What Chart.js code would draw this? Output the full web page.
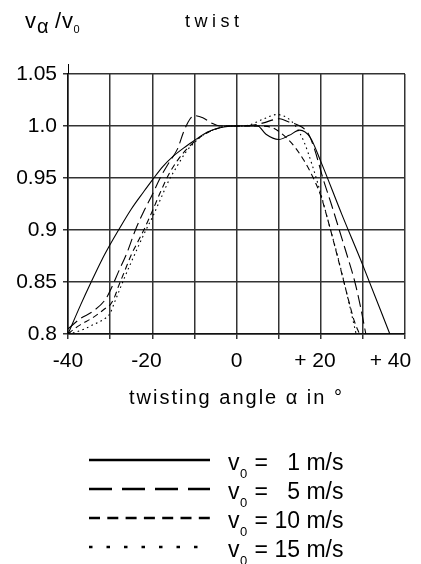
<!DOCTYPE html>
<html lang="en">
<head>
  <meta charset="UTF-8" />
  <title>twist</title>
  <style>
    body {
      margin: 0;
      background: #fff;
    }
    canvas {
      display: block;
    }
  </style>
</head>
<body>
  <canvas id="twistChart" width="421" height="564"></canvas>

  <script src="https://cdn.jsdelivr.net/npm/chart.js"></script>
  <script>
    // values (angle in degrees, v_alpha / v_0)
    const angles1 = [-40, -37, -34.5, -32, -30, -28, -25, -22, -20, -17.5, -15, -12.5, -10, -7, -3, 0, 3, 5, 7, 10, 12.5, 15, 17.5, 20, 25, 30, 36.4];
    const ratio1  = [0.8, 0.828, 0.85, 0.871, 0.886, 0.9, 0.92, 0.937, 0.948, 0.961, 0.971, 0.979, 0.986, 0.994, 0.999, 1.0, 1.0, 1.0, 0.992, 0.987, 0.991, 0.996, 0.989, 0.966, 0.915, 0.866, 0.8];

    const angles5 = [-40, -37, -34, -31, -29.5, -28, -26, -24, -22, -20, -18, -16, -14, -12.5, -11, -10, -8, -6, -4, 0, 4, 6.4, 8.8, 10.3, 12.3, 14, 15.5, 17, 18.5, 20.5, 22.5, 24.4, 26.3, 28.1, 29.5, 30.7];
    const ratio5  = [0.805, 0.815, 0.822, 0.834, 0.846, 0.86, 0.878, 0.9, 0.918, 0.934, 0.951, 0.965, 0.978, 0.995, 1.007, 1.01, 1.008, 1.003, 1.0, 1.0, 1.001, 1.003, 1.006, 1.007, 1.004, 1.002, 0.999, 0.993, 0.978, 0.95, 0.925, 0.9, 0.875, 0.85, 0.825, 0.8];

    const angles10 = [-40, -38.5, -37, -34, -31, -30, -29, -28, -26.5, -25, -23, -22, -20, -18, -16, -14, -12, -10, -8, -5, -2, 0, 5, 8, 10, 12, 14, 16, 18, 20, 22, 24, 26, 28, 29.2];
    const ratio10  = [0.8, 0.805, 0.809, 0.816, 0.825, 0.828, 0.835, 0.846, 0.861, 0.876, 0.892, 0.9, 0.918, 0.937, 0.954, 0.967, 0.977, 0.985, 0.991, 0.997, 1.0, 1.0, 1.0, 0.999, 0.995, 0.988, 0.979, 0.967, 0.952, 0.933, 0.905, 0.874, 0.842, 0.812, 0.8];

    const angles15 = [-40, -38, -36, -34, -32, -30, -29, -28, -26.5, -25, -23, -21.5, -20, -18, -16, -14, -12, -10, -8, -5, -2, 0, 3, 6, 9.6, 12, 14, 16, 18, 20, 22, 24, 26, 28.4];
    const ratio15  = [0.8, 0.802, 0.805, 0.809, 0.813, 0.82, 0.83, 0.84, 0.855, 0.869, 0.887, 0.9, 0.912, 0.93, 0.948, 0.962, 0.975, 0.984, 0.991, 0.997, 1.0, 1.0, 1.001, 1.006, 1.011, 1.008, 1.0, 0.985, 0.962, 0.935, 0.905, 0.875, 0.842, 0.8];

    const speeds = ['1', '5', '10', '15'];
    // tick texts as printed under the axis (trailing blanks nudge them left like the original)
    const xTickText = { '-40': '-40', '-20': '-20  ', '0': '0', '20': '+ 20  ', '40': '+ 40     ' };

    const FONT = "'Liberation Sans', Arial, sans-serif";

    function pairs(xs, ys) {
      return xs.map((x, i) => ({ x: x, y: ys[i] }));
    }

    // line look in the plot and in the key below it
    const plotDash = [[], [12, 5], [6, 4], [1.6, 3.4]];
    const keyDash = [[], [23, 10], [11, 7.3], [3.5, 14]];
    const keyEnd = [210, 210, 210, 199];

    function drawV0(ctx, x, y, size, subSize, drop) {
      ctx.font = size + 'px ' + FONT;
      ctx.fillText('v', x, y);
      const w = ctx.measureText('v').width;
      ctx.font = subSize + 'px ' + FONT;
      ctx.fillText('0', x + w + 0.5, y + drop);
      return x + w + 0.5 + ctx.measureText('0').width;
    }

    const textPlugin = {
      id: 'twistText',
      afterDraw(chart) {
        const ctx = chart.ctx;
        const area = chart.chartArea;
        ctx.save();
        ctx.fillStyle = '#000';
        ctx.strokeStyle = '#000';
        ctx.textBaseline = 'alphabetic';
        ctx.textAlign = 'left';

        // y axis runs a little above the top grid line
        ctx.lineWidth = 1;
        ctx.beginPath();
        ctx.moveTo(Math.round(area.left) + 0.5, area.top - 10);
        ctx.lineTo(Math.round(area.left) + 0.5, area.top);
        ctx.stroke();

        // y label  v_alpha / v_0
        ctx.font = '22px ' + FONT;
        ctx.fillText('v', 25, 28);
        ctx.font = '20px ' + FONT;
        ctx.fillText('\u03b1', 37, 33);
        ctx.font = '22px ' + FONT;
        ctx.fillText('/', 55, 28);
        drawV0(ctx, 62, 28, 22, 11, 5);

        // title
        ctx.letterSpacing = '4.5px';
        ctx.font = '18px ' + FONT;
        ctx.fillText('twist', 185, 27);

        // x title
        ctx.letterSpacing = '2px';
        ctx.font = '20px ' + FONT;
        const xt = 'twisting angle \u03b1 in \u00b0';
        const xw = ctx.measureText(xt).width;
        ctx.fillText(xt, (area.left + area.right) / 2 - xw / 2, 404);
        ctx.letterSpacing = '0px';

        // key
        chart.data.datasets.forEach((ds, i) => {
          const y = 460 + i * 29;
          ctx.save();
          ctx.lineWidth = 2.5;
          ctx.setLineDash(keyDash[i]);
          ctx.beginPath();
          ctx.moveTo(89, y);
          ctx.lineTo(keyEnd[i], y);
          ctx.stroke();
          ctx.restore();
          const x = drawV0(ctx, 228, y + 10, 23, 13, 8);
          ctx.font = '23px ' + FONT;
          const v = speeds[i].length === 1 ? '  ' + speeds[i] : speeds[i];
          ctx.fillText(' = ' + v + ' m/s', x + 1, y + 10);
        });
        ctx.restore();
      }
    };

    const ctx = document.getElementById('twistChart').getContext('2d');
    new Chart(ctx, {
      type: 'line',
      data: {
        datasets: [
          { label: 'v0 = 1 m/s', data: pairs(angles1, ratio1) },
          { label: 'v0 = 5 m/s', data: pairs(angles5, ratio5) },
          { label: 'v0 = 10 m/s', data: pairs(angles10, ratio10) },
          { label: 'v0 = 15 m/s', data: pairs(angles15, ratio15) }
        ].map((d, i) => Object.assign(d, {
          borderColor: '#000',
          borderWidth: 1.1,
          borderDash: plotDash[i],
          pointRadius: 0,
          fill: false,
          cubicInterpolationMode: 'monotone'
        }))
      },
      options: {
        responsive: false,
        animation: false,
        devicePixelRatio: 1,
        layout: { padding: { left: 0, top: 74, right: 16, bottom: 150 } },
        plugins: {
          legend: { display: false },
          title: { display: false },
          tooltip: { enabled: false }
        },
        scales: {
          x: {
            type: 'linear',
            min: -40,
            max: 40,
            afterFit(scale) {
              scale.height = 80;
              scale.paddingLeft = 0;
              scale.paddingRight = 0;
            },
            ticks: {
              stepSize: 10,
              color: '#000',
              padding: 10,
              maxRotation: 0,
              autoSkip: false,
              font: { family: FONT, size: 21 },
              callback: v => xTickText[String(v)] || ''
            },
            grid: { color: '#333', lineWidth: 1.5, tickLength: 5 },
            border: { display: true, color: '#111', width: 1.5 }
          },
          y: {
            min: 0.8,
            max: 1.05,
            afterFit(scale) {
              scale.width = 68;
              scale.paddingTop = 0;
              scale.paddingBottom = 0;
            },
            ticks: {
              stepSize: 0.05,
              color: '#000',
              padding: 6,
              font: { family: FONT, size: 21 },
              callback: v => {
                const r = Math.round(v * 100) / 100;
                return r === 1 ? '1.0' : String(r);
              }
            },
            grid: { color: '#333', lineWidth: 1.5, tickLength: 5 },
            border: { display: true, color: '#111', width: 1.5 }
          }
        }
      },
      plugins: [textPlugin]
    });
  </script>
</body>
</html>
